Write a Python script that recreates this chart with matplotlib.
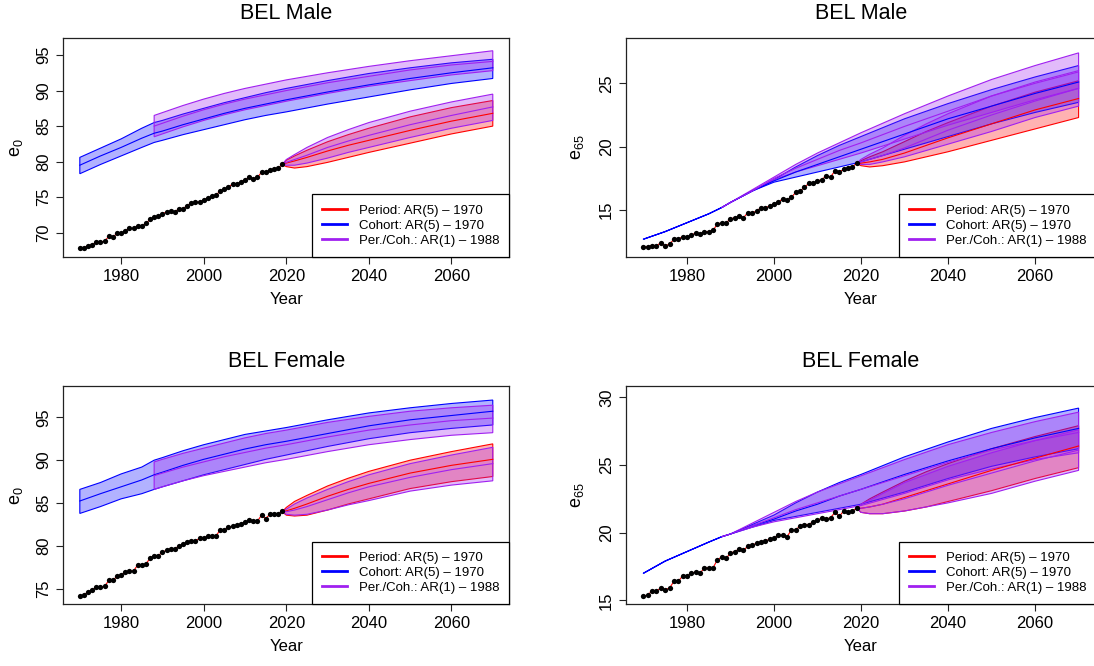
import matplotlib
matplotlib.use("Agg")
import matplotlib.pyplot as plt
import numpy as np
from matplotlib.lines import Line2D

plt.rcParams["font.family"] = ["Liberation Sans", "DejaVu Sans"]
plt.rcParams["mathtext.default"] = "regular"

# ---------------- data ----------------
years_obs = list(range(1970, 2020))
coh_years = [1970, 1975, 1980, 1985, 1988, 1990, 1995, 2000, 2005, 2010, 2015, 2020,
             2030, 2040, 2050, 2060, 2070]
ppc_years = [1988, 1990, 1995, 2000, 2005, 2010, 2015, 2020, 2030, 2040, 2050, 2060, 2070]
per_years = [2019, 2020, 2022, 2025, 2030, 2035, 2040, 2050, 2060, 2070]

# male e0
m_e0_obs = [67.8, 67.9, 68.2, 68.3, 68.7, 68.7, 68.8, 69.5, 69.4, 69.9,
            69.9, 70.3, 70.6, 70.6, 71.0, 71.0, 71.3, 71.9, 72.2, 72.3,
            72.7, 72.9, 73.0, 72.9, 73.4, 73.4, 73.8, 74.2, 74.3, 74.3,
            74.6, 74.9, 75.1, 75.3, 75.9, 76.1, 76.5, 76.8, 76.8, 77.2,
            77.4, 77.8, 77.6, 77.8, 78.5, 78.5, 78.8, 79.0, 79.1, 79.6]
m_e0_coh_lo = [78.3, 79.6, 80.8, 82.0, 82.7, 83.0, 83.8, 84.5, 85.2, 85.9, 86.5, 87.0,
               88.1, 89.1, 90.1, 91.0, 91.7]
m_e0_coh_md = [79.5, 80.8, 82.0, 83.3, 84.0, 84.3, 85.2, 86.0, 86.8, 87.5, 88.1, 88.7,
               89.8, 90.8, 91.7, 92.5, 93.2]
m_e0_coh_hi = [80.6, 81.9, 83.2, 84.7, 85.5, 85.8, 86.7, 87.5, 88.3, 89.0, 89.7, 90.3,
               91.4, 92.4, 93.2, 93.9, 94.4]
m_e0_ppc_lo = [83.5, 83.9, 84.9, 85.8, 86.6, 87.3, 87.9, 88.5, 89.6, 90.6, 91.4, 92.2, 92.8]
m_e0_ppc_md = [85.0, 85.4, 86.4, 87.3, 88.1, 88.8, 89.4, 90.0, 91.1, 92.0, 92.9, 93.6, 94.1]
m_e0_ppc_hi = [86.5, 86.9, 87.9, 88.8, 89.6, 90.3, 90.9, 91.5, 92.5, 93.4, 94.2, 94.9, 95.6]
m_e0_per_lo = [79.6, 79.3, 79.1, 79.3, 79.9, 80.6, 81.3, 82.6, 83.9, 85.0]
m_e0_per_md = [79.6, 79.8, 80.1, 80.6, 81.5, 82.3, 83.0, 84.4, 85.7, 86.8]
m_e0_per_hi = [79.6, 80.2, 80.8, 81.6, 82.8, 83.8, 84.7, 86.3, 87.6, 88.6]
m_e0_pp_lo = [79.6, 79.5, 79.5, 79.8, 80.5, 81.3, 82.0, 83.4, 84.7, 85.8]
m_e0_pp_md = [79.6, 79.9, 80.3, 80.9, 82.0, 82.9, 83.7, 85.2, 86.5, 87.7]
m_e0_pp_hi = [79.6, 80.3, 81.0, 82.0, 83.4, 84.5, 85.5, 87.1, 88.4, 89.5]

# male e65
m_e65_obs = [12.1, 12.1, 12.2, 12.2, 12.4, 12.2, 12.3, 12.7, 12.7, 12.9,
             12.9, 13.0, 13.2, 13.1, 13.3, 13.3, 13.4, 13.9, 14.0, 14.0,
             14.3, 14.4, 14.5, 14.4, 14.8, 14.8, 14.9, 15.2, 15.2, 15.3,
             15.5, 15.6, 15.9, 15.8, 16.0, 16.4, 16.5, 16.8, 17.1, 17.1,
             17.3, 17.4, 17.7, 17.6, 18.1, 18.0, 18.2, 18.3, 18.4, 18.7]
m_e65_coh_lo = [12.7, 13.3, 14.0, 14.7, 15.2, 15.6, 16.5, 17.2, 17.6, 18.0, 18.4, 18.8,
                19.8, 20.8, 21.8, 22.7, 23.5]
m_e65_coh_md = [12.7, 13.3, 14.0, 14.7, 15.2, 15.6, 16.5, 17.3, 18.0, 18.6, 19.2, 19.8,
                21.0, 22.2, 23.2, 24.2, 25.1]
m_e65_coh_hi = [12.7, 13.3, 14.0, 14.7, 15.2, 15.6, 16.5, 17.4, 18.4, 19.3, 20.1, 20.8,
                22.2, 23.4, 24.5, 25.5, 26.4]
m_e65_ppc_lo = [15.2, 15.6, 16.5, 17.4, 18.0, 18.5, 19.0, 19.5, 20.6, 21.7, 22.7, 23.7, 24.6]
m_e65_ppc_md = [15.2, 15.6, 16.5, 17.5, 18.3, 19.0, 19.7, 20.3, 21.6, 22.8, 24.0, 25.1, 26.0]
m_e65_ppc_hi = [15.2, 15.6, 16.6, 17.6, 18.6, 19.5, 20.3, 21.1, 22.6, 24.0, 25.3, 26.4, 27.4]
m_e65_per_lo = [18.7, 18.5, 18.4, 18.5, 18.8, 19.2, 19.6, 20.5, 21.4, 22.3]
m_e65_per_md = [18.7, 18.7, 18.8, 19.0, 19.5, 20.1, 20.7, 21.8, 22.9, 23.8]
m_e65_per_hi = [18.7, 18.9, 19.2, 19.6, 20.4, 21.2, 21.9, 23.2, 24.3, 25.2]
m_e65_pp_lo = [18.7, 18.6, 18.6, 18.8, 19.2, 19.7, 20.2, 21.2, 22.3, 23.2]
m_e65_pp_md = [18.7, 18.8, 19.0, 19.3, 19.9, 20.6, 21.3, 22.5, 23.6, 24.6]
m_e65_pp_hi = [18.7, 19.0, 19.4, 19.9, 20.9, 21.8, 22.6, 24.0, 25.0, 25.9]

# female e0
f_e0_obs = [74.2, 74.3, 74.7, 74.9, 75.2, 75.2, 75.3, 76.0, 76.0, 76.5,
            76.6, 77.0, 77.1, 77.1, 77.8, 77.8, 77.9, 78.6, 78.9, 78.9,
            79.3, 79.5, 79.7, 79.7, 80.0, 80.2, 80.5, 80.6, 80.6, 80.9,
            80.9, 81.2, 81.2, 81.2, 81.9, 81.9, 82.2, 82.3, 82.4, 82.6,
            82.8, 83.0, 82.9, 82.9, 83.6, 83.2, 83.7, 83.7, 83.7, 84.1]
f_e0_coh_lo = [83.8, 84.6, 85.5, 86.1, 86.6, 86.9, 87.6, 88.3, 88.9, 89.5, 90.1, 90.6,
               91.6, 92.5, 93.2, 93.7, 94.1]
f_e0_coh_md = [85.25, 86.1, 86.9, 87.7, 88.3, 88.6, 89.4, 90.1, 90.7, 91.3, 91.8, 92.2,
               93.1, 94.0, 94.7, 95.2, 95.7]
f_e0_coh_hi = [86.6, 87.4, 88.4, 89.2, 90.0, 90.3, 91.1, 91.8, 92.4, 93.0, 93.4, 93.8,
               94.7, 95.5, 96.1, 96.6, 97.0]
f_e0_ppc_lo = [86.6, 86.9, 87.6, 88.2, 88.7, 89.2, 89.7, 90.1, 91.0, 91.8, 92.4, 92.9, 93.2]
f_e0_ppc_md = [88.2, 88.5, 89.2, 89.8, 90.4, 90.9, 91.4, 91.8, 92.7, 93.5, 94.1, 94.6, 94.9]
f_e0_ppc_hi = [89.8, 90.1, 90.8, 91.4, 92.0, 92.6, 93.1, 93.5, 94.4, 95.1, 95.7, 96.1, 96.4]
f_e0_per_lo = [84.0, 83.6, 83.5, 83.6, 84.2, 84.9, 85.5, 86.7, 87.5, 88.1]
f_e0_per_md = [84.0, 84.1, 84.4, 84.9, 85.8, 86.6, 87.3, 88.5, 89.4, 90.1]
f_e0_per_hi = [84.0, 84.5, 85.2, 85.9, 87.0, 87.9, 88.7, 90.0, 91.0, 91.9]
f_e0_pp_lo = [84.0, 83.7, 83.6, 83.7, 84.2, 84.8, 85.3, 86.4, 87.1, 87.6]
f_e0_pp_md = [84.0, 84.0, 84.2, 84.6, 85.4, 86.2, 86.9, 88.0, 88.9, 89.6]
f_e0_pp_hi = [84.0, 84.3, 84.9, 85.6, 86.6, 87.5, 88.3, 89.6, 90.6, 91.5]

# female e65
f_e65_obs = [15.3, 15.4, 15.7, 15.7, 15.9, 15.8, 15.9, 16.4, 16.4, 16.8,
             16.8, 17.0, 17.1, 17.0, 17.4, 17.4, 17.4, 18.0, 18.2, 18.1,
             18.5, 18.6, 18.8, 18.7, 19.0, 19.1, 19.2, 19.3, 19.4, 19.5,
             19.6, 19.8, 19.8, 19.7, 20.2, 20.2, 20.5, 20.6, 20.6, 20.8,
             20.9, 21.1, 21.0, 21.1, 21.5, 21.2, 21.6, 21.5, 21.6, 21.8]
f_e65_coh_lo = [17.0, 17.9, 18.6, 19.3, 19.7, 19.9, 20.4, 20.9, 21.2, 21.5, 21.8, 22.1,
                23.0, 24.0, 24.9, 25.6, 26.2]
f_e65_coh_md = [17.0, 17.9, 18.6, 19.3, 19.7, 19.9, 20.5, 21.0, 21.6, 22.1, 22.7, 23.2,
                24.3, 25.3, 26.2, 27.0, 27.7]
f_e65_coh_hi = [17.0, 17.9, 18.6, 19.3, 19.7, 19.9, 20.6, 21.3, 22.2, 23.0, 23.7, 24.3,
                25.6, 26.7, 27.7, 28.5, 29.2]
f_e65_ppc_lo = [19.7, 19.9, 20.4, 20.8, 21.1, 21.4, 21.7, 22.0, 22.9, 23.9, 24.7, 25.4, 25.9]
f_e65_ppc_md = [19.7, 19.9, 20.5, 21.1, 21.7, 22.2, 22.7, 23.2, 24.2, 25.2, 26.1, 26.8, 27.4]
f_e65_ppc_hi = [19.7, 19.9, 20.7, 21.5, 22.3, 23.0, 23.6, 24.2, 25.4, 26.5, 27.4, 28.2, 28.9]
f_e65_per_lo = [21.8, 21.5, 21.4, 21.4, 21.6, 21.9, 22.3, 23.1, 24.0, 24.8]
f_e65_per_md = [21.8, 21.8, 21.9, 22.1, 22.6, 23.1, 23.6, 24.6, 25.5, 26.4]
f_e65_per_hi = [21.8, 22.1, 22.5, 23.0, 23.8, 24.5, 25.1, 26.2, 27.1, 27.9]
f_e65_pp_lo = [21.8, 21.5, 21.4, 21.4, 21.6, 21.9, 22.2, 22.9, 23.8, 24.6]
f_e65_pp_md = [21.8, 21.8, 21.9, 22.1, 22.5, 23.0, 23.5, 24.4, 25.3, 26.1]
f_e65_pp_hi = [21.8, 22.1, 22.4, 22.9, 23.7, 24.3, 24.9, 25.9, 26.8, 27.6]

x_ticks = [1980, 2000, 2020, 2040, 2060]
legend_labels = ["Period: AR(5) \u2013 1970", "Cohort: AR(5) \u2013 1970",
                 "Per./Coh.: AR(1) \u2013 1988"]

RED, BLUE, PURPLE = "#FF0000", "#0000FF", "#A020F0"

W, H = 1094, 666
fig = plt.figure(figsize=(W / 100, H / 100), dpi=100)


def px_axes(x0, y0, x1, y1):
    # pixel box (top-left origin) -> figure axes
    return fig.add_axes([x0 / W, 1 - y1 / H, (x1 - x0) / W, (y1 - y0) / H])


def band(ax, x, lo, md, hi, color):
    xs = np.r_[x, x[::-1]]
    ys = np.r_[lo, hi[::-1]]
    ax.fill(xs, ys, facecolor=color, alpha=0.3, edgecolor="none")
    ax.fill(xs, ys, facecolor="none", edgecolor=color, lw=0.8)
    ax.plot(x, md, color=color, lw=0.8)


panels = [
    # title, ylabel, pixel box, ylim, yticks, data
    ("BEL Male", "e_0", (63.3, 38.3, 509.3, 256.7), (66.63, 97.35), [70, 75, 80, 85, 90, 95],
     m_e0_obs, (m_e0_coh_lo, m_e0_coh_md, m_e0_coh_hi), (m_e0_ppc_lo, m_e0_ppc_md, m_e0_ppc_hi),
     (m_e0_per_lo, m_e0_per_md, m_e0_per_hi), (m_e0_pp_lo, m_e0_pp_md, m_e0_pp_hi)),
    ("BEL Male", "e_{65}", (626, 38.3, 1096, 256.7), (11.32, 28.55), [15, 20, 25],
     m_e65_obs, (m_e65_coh_lo, m_e65_coh_md, m_e65_coh_hi), (m_e65_ppc_lo, m_e65_ppc_md, m_e65_ppc_hi),
     (m_e65_per_lo, m_e65_per_md, m_e65_per_hi), (m_e65_pp_lo, m_e65_pp_md, m_e65_pp_hi)),
    ("BEL Female", "e_0", (63.3, 386.3, 509.3, 604), (73.26, 98.6), [75, 80, 85, 90, 95],
     f_e0_obs, (f_e0_coh_lo, f_e0_coh_md, f_e0_coh_hi), (f_e0_ppc_lo, f_e0_ppc_md, f_e0_ppc_hi),
     (f_e0_per_lo, f_e0_per_md, f_e0_per_hi), (f_e0_pp_lo, f_e0_pp_md, f_e0_pp_hi)),
    ("BEL Female", "e_{65}", (626, 386.3, 1096, 604), (14.73, 30.81), [15, 20, 25, 30],
     f_e65_obs, (f_e65_coh_lo, f_e65_coh_md, f_e65_coh_hi), (f_e65_ppc_lo, f_e65_ppc_md, f_e65_ppc_hi),
     (f_e65_per_lo, f_e65_per_md, f_e65_per_hi), (f_e65_pp_lo, f_e65_pp_md, f_e65_pp_hi)),
]

for title, ylab, box, ylim, yticks, obs, coh, ppc, per, pp in panels:
    ax = px_axes(*box)
    cy, py, fy = np.array(coh_years), np.array(ppc_years), np.array(per_years)

    band(ax, fy, *[np.array(v) for v in per], RED)
    band(ax, cy, *[np.array(v) for v in coh], BLUE)
    band(ax, py, *[np.array(v) for v in ppc], PURPLE)
    band(ax, fy, *[np.array(v) for v in pp], PURPLE)

    ax.plot(years_obs, obs, color=RED, lw=0.8)
    ax.plot(years_obs, obs, "o", color="black", ms=3.8, mew=0)

    ax.set_xlim(1966, 2074)
    ax.set_ylim(*ylim)
    ax.set_xticks(x_ticks)
    ax.set_yticks(yticks)
    ax.tick_params(direction="out", length=5, width=0.8, labelsize=12, pad=3.5,
                   color="#222222")
    plt.setp(ax.get_yticklabels(), rotation=90, va="center")
    for s in ax.spines.values():
        s.set_linewidth(0.9)
        s.set_color("#222222")

    ax.set_title(title, fontsize=15.5, pad=14)
    ax.set_xlabel("Year", fontsize=12, labelpad=6)
    ax.set_ylabel("$" + ylab + "$", fontsize=13, va="center")
    ax.yaxis.set_label_coords(-0.104, 0.5)

    handles = [Line2D([], [], color=c, lw=2) for c in (RED, BLUE, PURPLE)]
    leg = ax.legend(handles, legend_labels, loc="lower right", bbox_to_anchor=(1, 0),
                    borderaxespad=0, fontsize=9.5, frameon=True, fancybox=False,
                    framealpha=1, edgecolor="black", handlelength=1.9,
                    handletextpad=0.9, labelspacing=0.22, borderpad=0.75)
    leg.get_frame().set_linewidth(0.9)

fig.savefig("out.png", dpi=100)
